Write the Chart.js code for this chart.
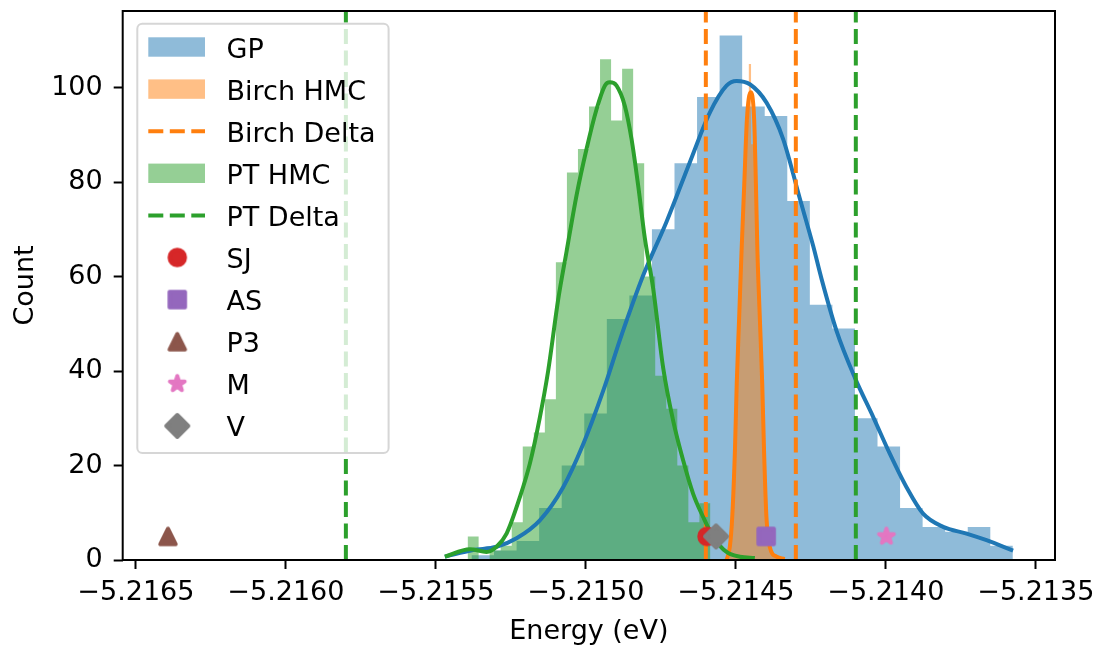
<!DOCTYPE html>
<html>
<head>
<meta charset="utf-8">
<script src="https://cdn.jsdelivr.net/npm/chart.js@4.4.1/dist/chart.umd.min.js"></script>
<style>
html, body { margin: 0; padding: 0; background: #fff; }
#wrap { width: 1104px; height: 653px; }
</style>
</head>
<body>
<div id="wrap"><canvas id="chart" width="1104" height="653"></canvas></div>
<script>
// histogram bins (eV) and counts
var gpEdges = [-5.2153813, -5.2153061, -5.2152309, -5.2151557, -5.2150805, -5.2150053, -5.2149301, -5.2148549,
    -5.2147797, -5.2147045, -5.2146293, -5.2145541, -5.2144789, -5.2144037, -5.2143285, -5.2142533,
    -5.2141781, -5.2141029, -5.2140277, -5.2139525, -5.2138773, -5.2138021, -5.2137269, -5.2136517, -5.2135765]
var gpCounts = [1, 2, 4, 11, 20, 31, 51, 56, 70, 84, 98, 111, 96, 94, 76, 54, 49, 30, 24, 11, 7, 6, 7, 3]

var birchEdges = [-5.2145300, -5.2145227, -5.2145153, -5.2145080, -5.2145007, -5.2144933, -5.2144860, -5.2144787,
    -5.2144713, -5.2144640, -5.2144567, -5.2144493, -5.2144420, -5.2144347, -5.2144273, -5.2144200,
    -5.2144127, -5.2144053, -5.2143980, -5.2143907, -5.2143833, -5.2143760, -5.2143687, -5.2143613]
var birchCounts = [1, 3, 9, 20, 36, 48, 66, 74, 85, 93, 105, 88, 91, 76, 60, 43, 28, 15, 6, 3, 1, 1, 1]

var ptEdges = [-5.2153943, -5.2153575, -5.2153207, -5.2152839, -5.2152471, -5.2152103, -5.2151735, -5.2151367,
    -5.2150999, -5.2150631, -5.2150263, -5.2149895, -5.2149527, -5.2149159, -5.2148791, -5.2148423,
    -5.2148055, -5.2147687, -5.2147319, -5.2146951, -5.2146583, -5.2146215, -5.2145847]
var ptCounts = [5, 0, 2, 3, 8, 24, 27, 34, 63, 82, 87, 96, 106, 93, 104, 84, 60, 39, 32, 20, 8, 12]

// kde curves
var gpKdeX = [-5.21547, -5.2153757, -5.2152977, -5.215231, -5.2151533, -5.2150757, -5.215009, -5.2149423,
    -5.214881, -5.214809, -5.214731, -5.2146533, -5.2145867, -5.214531, -5.2144977, -5.2144533, -5.2143977,
    -5.2143423, -5.2142867, -5.2142423, -5.2142143, -5.2141643, -5.2141033, -5.2140423, -5.2139867,
    -5.213931, -5.2138757, -5.213809, -5.213731, -5.2136643, -5.2135757]
var gpKdeY = [0.7, 2.1, 2.8, 4.6, 8.4, 15.4, 24.5, 35.8, 47.6, 60.2, 71.6, 84.2, 94.7, 100.4, 101.4, 100.7, 96.8,
    89.1, 76.5, 66.5, 59.5, 48.5, 38.6, 30.3, 22.5, 15.4, 9.8, 7.0, 5.6, 4.2, 2.0]

var birchKdeX = [-5.214531, -5.21452, -5.214512, -5.214503, -5.214497, -5.214489, -5.214481, -5.214472, -5.214463,
    -5.214451, -5.214439, -5.214433, -5.214428, -5.21442, -5.214412, -5.214406, -5.214398, -5.214387,
    -5.214364, -5.214337]
var birchKdeY = [0, 2.8, 9.1, 23.2, 37.3, 51.2, 65.3, 79.4, 93.3, 99.0, 93.3, 79.4, 65.3, 51.2, 37.3, 23.2, 9.1, 2.8, 0.7, 0.2]

var ptKdeX = [-5.21547, -5.2153867, -5.215331, -5.2152977, -5.2152643, -5.21522, -5.2151867, -5.2151533, -5.2151257,
    -5.2150923, -5.2150643, -5.215031, -5.2149977, -5.2149643, -5.2149367, -5.21492, -5.2148977, -5.21487,
    -5.2148477, -5.2148257, -5.2148033, -5.2147757, -5.2147423, -5.214709, -5.2146757, -5.2146423,
    -5.214609, -5.2145757, -5.214531, -5.2144867, -5.2144367]
var ptKdeY = [0.7, 2.3, 1.7, 2.8, 5.6, 13.3, 20.4, 30.2, 40.0, 55.1, 65.3, 77.2, 87.0, 95.4, 100.4, 101.1, 100.4, 96.1,
    89.1, 79.3, 68.1, 57.5, 40.7, 29.5, 21.1, 14.0, 9.1, 4.9, 1.7, 0.7, 0.4]

// delta estimates (vertical lines)
var birchDelta = [-5.2146, -5.2143]
var ptDelta = [-5.2158, -5.2141]

// reference values
var markerLabels = ['SJ', 'AS', 'P3', 'M', 'V']
var markerX = [-5.214596, -5.214399, -5.216393, -5.213998, -5.214566]
var markerY = [5, 5, 5, 5, 5]

var xTicks = [-5.2165, -5.2160, -5.2155, -5.2150, -5.2145, -5.2140, -5.2135]
var yTicks = [0, 20, 40, 60, 80, 100]
var xMin = -5.216544, xMax = -5.213436
var yMin = 0, yMax = 116.2

var markerColors = ['#d62728', '#9467bd', '#8c564b', '#e377c2', '#7f7f7f']
var markerShapes = ['circle', 'square', 'triangle', 'star', 'diamond']

var FONT = '"DejaVu Sans"'
Chart.defaults.font.family = FONT
Chart.defaults.font.size = 27
Chart.defaults.color = '#000'

function histPoints(edges, counts){
    var pts = []
    for(var i = 0 ; i < counts.length ; i++){
        pts.push({x: edges[i], y: counts[i]})
    }
    pts.push({x: edges[edges.length - 1], y: 0})
    return pts
}

function curvePoints(xs, ys){
    return xs.map(function(x, i){ return {x: x, y: ys[i]} })
}

function vlinePoints(xs){
    var pts = []
    xs.forEach(function(x, i){
        if(i > 0) pts.push({x: x, y: null})
        pts.push({x: x, y: yMin})
        pts.push({x: x, y: yMax})
    })
    return pts
}

// marker glyphs like matplotlib's o s ^ * D (face + same-colour edge)
function makeMarker(shape, color){
    var c = document.createElement('canvas')
    c.width = 30
    c.height = 30
    var g = c.getContext('2d')
    var h = 7.8
    g.fillStyle = color
    g.strokeStyle = color
    g.lineWidth = 3.9
    g.lineJoin = 'round'
    g.beginPath()
    if(shape == 'circle'){
        g.arc(15, 15, h, 0, Math.PI * 2)
    } else if(shape == 'square'){
        g.rect(15 - h, 15 - h, 2 * h, 2 * h)
    } else if(shape == 'triangle'){
        g.moveTo(15, 15 - h)
        g.lineTo(15 - h, 15 + h)
        g.lineTo(15 + h, 15 + h)
    } else if(shape == 'star'){
        for(var k = 0 ; k < 10 ; k++){
            var r = k % 2 == 0 ? h : h * 0.381966
            var a = -Math.PI / 2 + k * Math.PI / 5
            if(k == 0) g.moveTo(15 + r * Math.cos(a), 15 + r * Math.sin(a))
            else g.lineTo(15 + r * Math.cos(a), 15 + r * Math.sin(a))
        }
    } else if(shape == 'diamond'){
        var d = h * Math.SQRT2
        g.moveTo(15, 15 - d)
        g.lineTo(15 + d, 15)
        g.lineTo(15, 15 + d)
        g.lineTo(15 - d, 15)
    }
    g.closePath()
    g.fill()
    g.stroke()
    return c
}

function histSet(label, edges, counts, color, order){
    return {
        label: label,
        data: histPoints(edges, counts),
        stepped: true,
        fill: 'origin',
        backgroundColor: color,
        borderColor: 'rgba(0,0,0,0)',
        borderWidth: 0,
        pointRadius: 0,
        order: order
    }
}

function kdeSet(label, xs, ys, color, order){
    return {
        label: label,
        data: curvePoints(xs, ys),
        borderColor: color,
        borderWidth: 4,
        cubicInterpolationMode: 'monotone',
        pointRadius: 0,
        fill: false,
        order: order
    }
}

function deltaSet(label, xs, color, order){
    return {
        label: label,
        data: vlinePoints(xs),
        borderColor: color,
        borderWidth: 4,
        borderDash: [15, 6.5],
        spanGaps: false,
        pointRadius: 0,
        fill: false,
        order: order
    }
}

var datasets = [
    histSet('GP', gpEdges, gpCounts, 'rgba(31,119,180,0.5)', 13),
    kdeSet('_gpkde', gpKdeX, gpKdeY, '#1f77b4', 10),
    histSet('Birch HMC', birchEdges, birchCounts, 'rgba(255,127,14,0.5)', 12),
    kdeSet('_birchkde', birchKdeX, birchKdeY, '#ff7f0e', 9),
    deltaSet('Birch Delta', birchDelta, '#ff7f0e', 8),
    histSet('PT HMC', ptEdges, ptCounts, 'rgba(44,160,44,0.5)', 11),
    kdeSet('_ptkde', ptKdeX, ptKdeY, '#2ca02c', 7),
    deltaSet('PT Delta', ptDelta, '#2ca02c', 6)
]
markerLabels.forEach(function(lab, i){
    datasets.push({
        label: lab,
        data: [{x: markerX[i], y: markerY[i]}],
        showLine: false,
        pointStyle: makeMarker(markerShapes[i], markerColors[i]),
        pointRadius: 10,
        order: 5 - i
    })
})

// axes frame + matplotlib-like legend
var frameAndLegend = {
    id: 'frameAndLegend',
    afterDraw: function(chart){
        var ctx = chart.ctx
        var area = chart.chartArea
        ctx.save()
        ctx.strokeStyle = '#000'
        ctx.lineWidth = 2
        ctx.strokeRect(area.left, area.top, area.right - area.left, area.bottom - area.top)

        var items = chart.data.datasets.filter(function(d){ return d.label[0] != '_' })
        ctx.font = '27px ' + FONT
        var left = area.left + 14.6
        var top = area.top + 12.7
        var textX = left + 89.2
        var w = 0
        items.forEach(function(d){ w = Math.max(w, ctx.measureText(d.label).width) })
        var width = textX + w + 13 - left
        var height = 429.3
        var r = 5
        ctx.beginPath()
        ctx.moveTo(left + r, top)
        ctx.lineTo(left + width - r, top)
        ctx.arcTo(left + width, top, left + width, top + r, r)
        ctx.lineTo(left + width, top + height - r)
        ctx.arcTo(left + width, top + height, left + width - r, top + height, r)
        ctx.lineTo(left + r, top + height)
        ctx.arcTo(left, top + height, left, top + height - r, r)
        ctx.lineTo(left, top + r)
        ctx.arcTo(left, top, left + r, top, r)
        ctx.closePath()
        ctx.fillStyle = 'rgba(255,255,255,0.8)'
        ctx.fill()
        ctx.strokeStyle = 'rgba(204,204,204,0.8)'
        ctx.lineWidth = 2
        ctx.stroke()

        items.forEach(function(d, i){
            var cy = top + 23.3 + i * 42.1
            if(d.fill){
                ctx.fillStyle = d.backgroundColor
                ctx.fillRect(left + 11, cy - 9.7, 56.7, 19.4)
            } else if(d.borderDash){
                ctx.save()
                ctx.strokeStyle = d.borderColor
                ctx.lineWidth = d.borderWidth
                ctx.setLineDash(d.borderDash)
                ctx.beginPath()
                ctx.moveTo(left + 11, cy)
                ctx.lineTo(left + 67.7, cy)
                ctx.stroke()
                ctx.restore()
            } else if(d.pointStyle){
                var img = d.pointStyle
                ctx.drawImage(img, left + 40 - img.width / 2, cy - img.height / 2)
            }
            ctx.fillStyle = '#000'
            ctx.textAlign = 'left'
            ctx.textBaseline = 'alphabetic'
            ctx.fillText(d.label, textX, cy + 10.5)
        })
        ctx.restore()
    }
}

function fmt(v){
    var s = v.toFixed(4)
    return s.replace('-', '\u2212')
}

var ctx = document.getElementById('chart').getContext('2d')
var chart = new Chart(ctx, {
    type: 'line',
    data: { datasets: datasets },
    plugins: [frameAndLegend],
    options: {
        responsive: false,
        animation: false,
        events: [],
        layout: { padding: { left: 0, top: 8, right: 49, bottom: 0 } },
        plugins: {
            legend: { display: false },
            tooltip: { enabled: false }
        },
        scales: {
            x: {
                type: 'linear',
                min: xMin,
                max: xMax,
                afterFit: function(scale){
                    scale.height = 93
                    scale.paddingLeft = 0
                    scale.paddingRight = 0
                },
                afterBuildTicks: function(scale){
                    scale.ticks = xTicks.map(function(v){ return {value: v} })
                },
                ticks: {
                    autoSkip: false,
                    maxRotation: 0,
                    minRotation: 0,
                    padding: 8,
                    font: { family: FONT, size: 27 },
                    callback: function(v){ return fmt(v) }
                },
                grid: { drawOnChartArea: false, drawTicks: true, tickLength: 9, tickWidth: 2, tickColor: '#000' },
                border: { display: false },
                title: { display: true, text: 'Energy (eV)', font: { family: FONT, size: 27 }, padding: { top: 0, bottom: 5 } }
            },
            y: {
                min: yMin,
                max: yMax,
                afterFit: function(scale){
                    scale.width = 122.7
                    scale.paddingTop = 0
                    scale.paddingBottom = 0
                },
                afterBuildTicks: function(scale){
                    scale.ticks = yTicks.map(function(v){ return {value: v} })
                },
                ticks: { padding: 11, font: { family: FONT, size: 27 } },
                grid: { drawOnChartArea: false, drawTicks: true, tickLength: 9, tickWidth: 2, tickColor: '#000' },
                border: { display: false },
                title: { display: true, text: 'Count', font: { family: FONT, size: 27 }, padding: { top: 10, bottom: 0 } }
            }
        }
    }
})
</script>
</body>
</html>
